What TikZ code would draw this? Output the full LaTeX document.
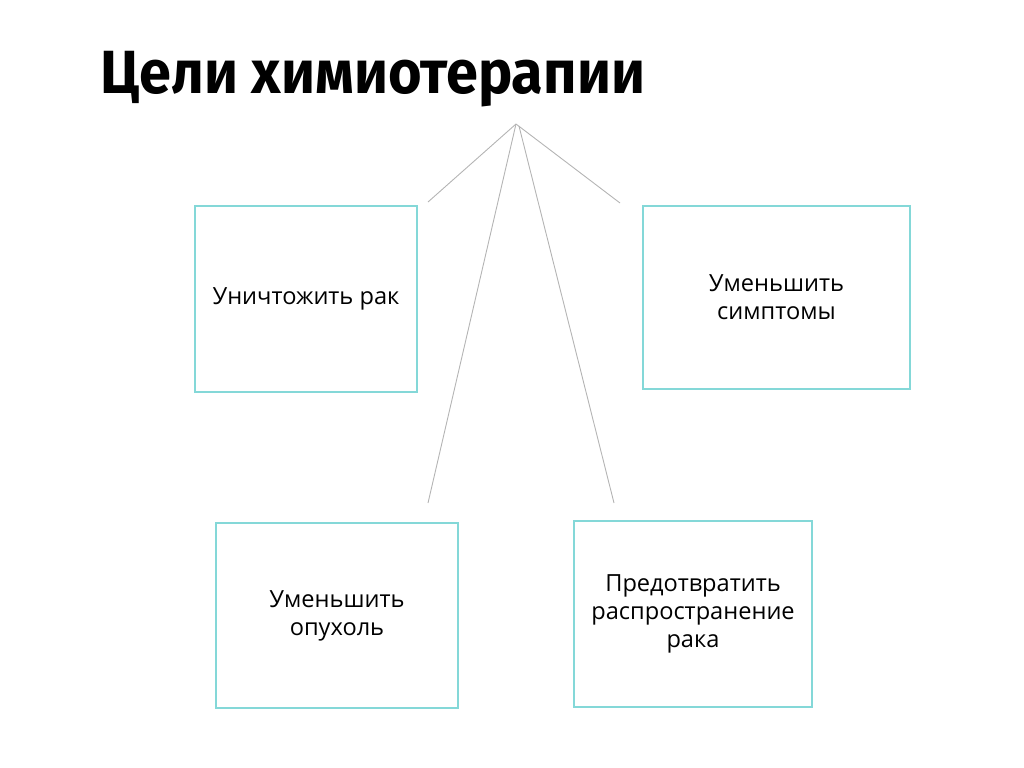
\documentclass[tikz,border=0pt]{standalone}
\usepackage{fontspec}
\setmainfont{Open Sans}
\newfontfamily\titlefont{Fira Sans}
\usepackage{tikz}

\definecolor{boxteal}{HTML}{84D8D8}
\definecolor{linegray}{HTML}{B4B4B4}

\begin{document}
\begin{tikzpicture}[x=0.5pt,y=-0.5pt,
  goal/.style={draw=boxteal,line width=0.9pt,rectangle,align=center,
    font=\fontsize{11.8}{14}\selectfont,inner sep=0pt},
  link/.style={draw=linegray,line width=0.45pt}]
\useasboundingbox (0,0) rectangle (1024,767);
\node[anchor=base west,inner sep=0pt,font=\titlefont\bfseries\fontsize{30.5}{36}\selectfont] (title) at (100,93) {\scalebox{0.945}[1]{Цели химиотерапии}};
% boxes
\node[goal,minimum width=111pt,minimum height=93pt] (kill) at (306,299) {Уничтожить рак};
\node[goal,minimum width=133.5pt,minimum height=91.5pt] (sympt) at (776.5,297.5) {Уменьшить\\симптомы};
\node[goal,minimum width=121pt,minimum height=92.5pt] (tumor) at (337,615.5) {Уменьшить\\опухоль};
\node[goal,minimum width=119pt,minimum height=93pt] (spread) at (693,614) {Предотвратить\\распространение\\рака};
% lines from the top
\coordinate (top) at (516,124);
\coordinate (top2) at (519,126);
\coordinate (endA) at (428,202);
\coordinate (endB) at (620,203);
\coordinate (endC) at (428,503);
\coordinate (endD) at (614,503);
\draw[link] (top) -- (endA);
\draw[link] (top) -- (endB);
\draw[link] (top) -- (endC);
\draw[link] (top2) -- (endD);
\end{tikzpicture}
\end{document}
